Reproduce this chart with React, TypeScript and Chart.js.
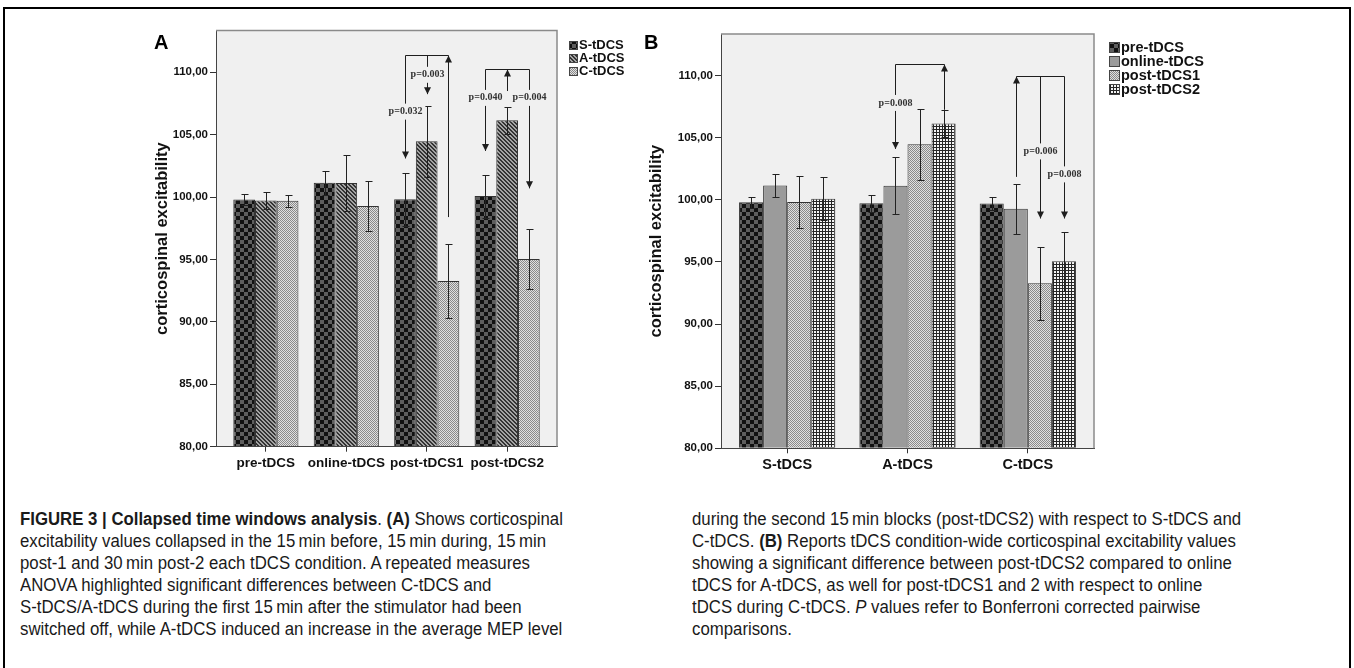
import React, { useEffect, useRef } from 'react';
import { Chart, registerables } from 'chart.js';

Chart.register(...registerables);

// ---------------- data ----------------
const timeWindows = ['pre-tDCS', 'online-tDCS', 'post-tDCS1', 'post-tDCS2'];
const conditions = ['S-tDCS', 'A-tDCS', 'C-tDCS'];

// mean corticospinal excitability per condition, over the time windows
const sMeans = [99.8, 101.15, 99.82, 100.08];
const aMeans = [99.72, 101.13, 104.47, 106.15];
const cMeans = [99.7, 99.28, 93.28, 95.05];
// error bar half-lengths
const sErrors = [0.42, 0.95, 2.1, 1.72];
const aErrors = [0.66, 2.28, 2.84, 1.06];
const cErrors = [0.5, 2.0, 2.93, 2.4];

const yTickValues = [80, 85, 90, 95, 100, 105, 110];
const yMin = 80;
const yMax = 113.35;

type Leg = { series: number; end: number; dir: 'up' | 'down'; label?: string; labelAt?: number };
type Bracket = { group: number; top: number; legs: Leg[] };

// significance brackets, panel A (group = time window, series = condition)
const bracketsA: Bracket[] = [
  {
    group: 2, top: 111.4, legs: [
      { series: 0, end: 103.1, dir: 'down', label: 'p=0.032', labelAt: 106.85 },
      { series: 1, end: 108.25, dir: 'down', label: 'p=0.003', labelAt: 109.8 },
      { series: 2, end: 98.4, dir: 'up' },
    ],
  },
  {
    group: 3, top: 110.25, legs: [
      { series: 0, end: 103.7, dir: 'down', label: 'p=0.040', labelAt: 107.95 },
      { series: 1, end: 108.5, dir: 'up' },
      { series: 2, end: 100.7, dir: 'down', label: 'p=0.004', labelAt: 107.95 },
    ],
  },
];
// panel B (group = condition, series = time window)
const bracketsB: Bracket[] = [
  {
    group: 1, top: 110.9, legs: [
      { series: 1, end: 104.1, dir: 'down', label: 'p=0.008', labelAt: 107.8 },
      { series: 3, end: 107.25, dir: 'up' },
    ],
  },
  {
    group: 2, top: 110.0, legs: [
      { series: 1, end: 101.85, dir: 'up' },
      { series: 2, end: 98.5, dir: 'down', label: 'p=0.006', labelAt: 103.9 },
      { series: 3, end: 98.5, dir: 'down', label: 'p=0.008', labelAt: 102.05 },
    ],
  },
];

const meansByCondition = [sMeans, aMeans, cMeans];
const errorsByCondition = [sErrors, aErrors, cErrors];

// ---------------- styling helpers ----------------
const PLOT_BG = '#f0f0f0';
const FONT = '"Liberation Sans", Arial, Helvetica, sans-serif';

function makeTile(kind: string): HTMLCanvasElement {
  const c = document.createElement('canvas');
  const g = c.getContext('2d')!;
  if (kind === 'checker') {
    c.width = 8; c.height = 8;
    g.fillStyle = '#111111'; g.fillRect(0, 0, 8, 8);
    g.fillStyle = '#5e5e5e'; g.fillRect(0, 0, 4, 4); g.fillRect(4, 4, 4, 4);
  } else if (kind === 'diag') {
    const n = 4;
    c.width = n; c.height = n;
    g.fillStyle = '#a4a4a4'; g.fillRect(0, 0, n, n);
    g.fillStyle = '#333333';
    for (let y = 0; y < n; y++) for (let x = 0; x < n; x++) {
      const d = (((x - y) % n) + n) % n;
      if (d === 0 || d === 1) g.fillRect(x, y, 1, 1);
    }
  } else if (kind === 'dots') {
    c.width = 2; c.height = 2;
    g.fillStyle = '#e0e0e0'; g.fillRect(0, 0, 2, 2);
    g.fillStyle = '#8a8a8a'; g.fillRect(0, 0, 1, 1); g.fillRect(1, 1, 1, 1);
  } else if (kind === 'grid') {
    c.width = 3; c.height = 3;
    g.fillStyle = '#f4f4f4'; g.fillRect(0, 0, 3, 3);
    g.fillStyle = '#262626'; g.fillRect(0, 0, 3, 1); g.fillRect(0, 0, 1, 3);
  } else {
    c.width = 1; c.height = 1;
    g.fillStyle = '#9b9b9b'; g.fillRect(0, 0, 1, 1);
  }
  return c;
}

function makeFill(ctx: CanvasRenderingContext2D, kind: string): CanvasPattern | string {
  if (kind === 'solid') return '#9b9b9b';
  return ctx.createPattern(makeTile(kind), 'repeat') || '#999';
}

interface PanelSpec {
  categories: string[];
  series: string[];
  values: number[][];
  errors: number[][];
  patterns: string[];
  xMin: number;
  xMax: number;
  categoryPercentage: number;
  area: { left: number; top: number; right: number; bottom: number };
  canvasW: number;
  canvasH: number;
  titleX: number;
  yTickFont: number;
  xTickFont: number;
  legend: { dx: number; dy: number; step: number; box: number; font: number };
  brackets: Bracket[];
}

const panelA: PanelSpec = {
  categories: timeWindows,
  series: conditions,
  values: conditions.map((_, k) => meansByCondition[k]),
  errors: conditions.map((_, k) => errorsByCondition[k]),
  patterns: ['checker', 'diag', 'dots'],
  xMin: -0.62,
  xMax: 3.62,
  categoryPercentage: 0.81,
  area: { left: 216, top: 30.5, right: 557, bottom: 446.7 },
  canvasW: 630,
  canvasH: 480,
  titleX: 162,
  yTickFont: 11.5,
  xTickFont: 13.5,
  legend: { dx: 12, dy: 14.5, step: 13, box: 9, font: 13 },
  brackets: bracketsA,
};

const panelB: PanelSpec = {
  categories: conditions,
  series: timeWindows,
  values: timeWindows.map((_, t) => conditions.map((__, k) => meansByCondition[k][t])),
  errors: timeWindows.map((_, t) => conditions.map((__, k) => errorsByCondition[k][t])),
  patterns: ['checker', 'solid', 'dots', 'grid'],
  xMin: -0.55,
  xMax: 2.55,
  categoryPercentage: 0.8,
  area: { left: 91, top: 34, right: 464, bottom: 448.3 },
  canvasW: 724,
  canvasH: 480,
  titleX: 26.5,
  yTickFont: 11.5,
  xTickFont: 14.5,
  legend: { dx: 15, dy: 13, step: 14, box: 11, font: 14.5 },
  brackets: bracketsB,
};

// ---------------- plugins ----------------
const framePlugin = {
  id: 'frame',
  beforeDraw(chart: any) {
    const { ctx, chartArea: a } = chart;
    ctx.save();
    ctx.fillStyle = PLOT_BG;
    ctx.fillRect(a.left, a.top, a.right - a.left, a.bottom - a.top);
    ctx.restore();
  },
  afterDraw(chart: any) {
    const { ctx, chartArea: a } = chart;
    ctx.save();
    ctx.strokeStyle = '#8a8a8a';
    ctx.lineWidth = 1.5;
    ctx.beginPath();
    ctx.moveTo(a.left, a.top);
    ctx.lineTo(a.right, a.top);
    ctx.lineTo(a.right, a.bottom);
    ctx.stroke();
    ctx.restore();
  },
};

const errorBarPlugin = {
  id: 'errorBars',
  afterDatasetsDraw(chart: any) {
    const { ctx } = chart;
    const y = chart.scales.y;
    ctx.save();
    ctx.strokeStyle = '#222';
    ctx.lineWidth = 1;
    chart.data.datasets.forEach((ds: any, i: number) => {
      const meta = chart.getDatasetMeta(i);
      meta.data.forEach((bar: any, j: number) => {
        const v = ds.data[j].y;
        const e = ds.errors[j];
        const x = Math.round(bar.x) + 0.5;
        const yt = Math.round(y.getPixelForValue(v + e)) + 0.5;
        const yb = Math.round(y.getPixelForValue(v - e)) + 0.5;
        ctx.beginPath();
        ctx.moveTo(x, yt); ctx.lineTo(x, yb);
        ctx.moveTo(x - 3, yt); ctx.lineTo(x + 4, yt);
        ctx.moveTo(x - 3, yb); ctx.lineTo(x + 4, yb);
        ctx.stroke();
      });
    });
    ctx.restore();
  },
};

function bracketPlugin(brackets: Bracket[]) {
  return {
    id: 'brackets',
    afterDatasetsDraw(chart: any) {
      const { ctx } = chart;
      const y = chart.scales.y;
      ctx.save();
      ctx.strokeStyle = '#1e1e1e';
      ctx.fillStyle = '#1e1e1e';
      ctx.lineWidth = 1;
      brackets.forEach((br) => {
        const topY = Math.round(y.getPixelForValue(br.top)) + 0.5;
        const xs = br.legs.map((l) => Math.round(chart.getDatasetMeta(l.series).data[br.group].x) + 0.5);
        ctx.beginPath();
        ctx.moveTo(Math.min(...xs), topY);
        ctx.lineTo(Math.max(...xs), topY);
        ctx.stroke();
        br.legs.forEach((l, k) => {
          const x = xs[k];
          const endY = y.getPixelForValue(l.end);
          ctx.beginPath();
          ctx.moveTo(x, topY);
          ctx.lineTo(x, endY);
          ctx.stroke();
          ctx.beginPath();
          if (l.dir === 'down') {
            ctx.moveTo(x, endY);
            ctx.lineTo(x - 3.5, endY - 7);
            ctx.lineTo(x + 3.5, endY - 7);
          } else {
            ctx.moveTo(x, topY);
            ctx.lineTo(x - 3.5, topY + 7);
            ctx.lineTo(x + 3.5, topY + 7);
          }
          ctx.closePath();
          ctx.fill();
          if (l.label && l.labelAt !== undefined) {
            const ly = y.getPixelForValue(l.labelAt);
            ctx.font = 'bold 10px "Liberation Serif", "Times New Roman", serif';
            const w = ctx.measureText(l.label).width;
            ctx.fillStyle = PLOT_BG;
            ctx.fillRect(x - w / 2 - 3, ly - 8, w + 6, 16);
            ctx.fillStyle = '#333';
            ctx.textAlign = 'center';
            ctx.textBaseline = 'middle';
            ctx.fillText(l.label, x, ly);
            ctx.fillStyle = '#1e1e1e';
          }
        });
      });
      ctx.restore();
    },
  };
}

function legendPlugin(lg: PanelSpec['legend']) {
  return {
    id: 'sideLegend',
    afterDraw(chart: any) {
      const { ctx, chartArea: a } = chart;
      ctx.save();
      chart.data.datasets.forEach((ds: any, i: number) => {
        const x = Math.round(a.right + lg.dx);
        const cy = a.top + lg.dy + i * lg.step;
        const top = Math.round(cy - lg.box / 2);
        ctx.fillStyle = ds.backgroundColor;
        ctx.fillRect(x, top, lg.box, lg.box);
        ctx.strokeStyle = '#444';
        ctx.lineWidth = 1;
        ctx.strokeRect(x + 0.5, top + 0.5, lg.box - 1, lg.box - 1);
        ctx.fillStyle = '#111';
        ctx.font = `bold ${lg.font}px ${FONT}`;
        ctx.textAlign = 'left';
        ctx.textBaseline = 'middle';
        ctx.fillText(ds.label, x + lg.box + 1, cy + 0.5);
      });
      ctx.restore();
    },
  };
}

function createPanel(canvas: HTMLCanvasElement, p: PanelSpec): Chart {
  const ctx = canvas.getContext('2d')!;
  const datasets = p.series.map((name, s) => ({
    label: name,
    data: p.categories.map((_, c) => ({ x: c, y: p.values[s][c] })),
    errors: p.errors[s],
    backgroundColor: makeFill(ctx, p.patterns[s]),
    borderColor: '#333',
    borderWidth: 1,
    borderSkipped: 'start',
    base: yMin,
    categoryPercentage: p.categoryPercentage,
    barPercentage: 1,
  }));
  const titleSize = 16.5;
  return new Chart(canvas, {
    type: 'bar',
    data: { datasets: datasets as any },
    options: {
      responsive: false,
      animation: false,
      devicePixelRatio: 1,
      events: [],
      layout: { padding: { left: 0, top: p.area.top, right: p.canvasW - p.area.right, bottom: 0 } },
      plugins: { legend: { display: false }, tooltip: { enabled: false }, title: { display: false } },
      scales: {
        x: {
          type: 'linear',
          min: p.xMin,
          max: p.xMax,
          offset: false,
          afterBuildTicks: (axis: any) => { axis.ticks = p.categories.map((_, i) => ({ value: i })); },
          afterFit: (axis: any) => { axis.height = p.canvasH - p.area.bottom; },
          ticks: {
            autoSkip: false, maxRotation: 0, minRotation: 0, padding: 3, color: '#111',
            font: { family: FONT, size: p.xTickFont, weight: 'bold' },
            callback: (_v: any, i: number) => p.categories[i],
          },
          grid: { offset: false, drawOnChartArea: false, drawTicks: true, tickLength: 5, color: '#333', lineWidth: 1 },
          border: { display: true, color: '#444', width: 1 },
        },
        y: {
          type: 'linear',
          min: yMin,
          max: yMax,
          afterBuildTicks: (axis: any) => { axis.ticks = yTickValues.map((v) => ({ value: v })); },
          afterFit: (axis: any) => { axis.width = p.area.left; },
          ticks: {
            padding: 2, color: '#111',
            font: { family: FONT, size: p.yTickFont, weight: 'bold' },
            callback: (v: any) => Number(v).toFixed(2).replace('.', ','),
          },
          grid: { drawOnChartArea: false, drawTicks: true, tickLength: 6, color: '#333', lineWidth: 1 },
          border: { display: true, color: '#444', width: 1 },
          title: {
            display: true, text: 'corticospinal excitability', color: '#111',
            font: { family: FONT, size: titleSize, weight: 'bold' },
            padding: { top: p.titleX - titleSize * 0.6, bottom: 0 },
          },
        },
      },
    } as any,
    plugins: [framePlugin, errorBarPlugin, bracketPlugin(p.brackets), legendPlugin(p.legend)] as any,
  });
}

// ---------------- caption ----------------
type Seg = { t: string; b?: boolean; i?: boolean };
const captionLeft: Seg[][] = [
  [{ t: 'FIGURE 3 | Collapsed time windows analysis', b: true }, { t: '. ' }, { t: '(A)', b: true }, { t: ' Shows corticospinal' }],
  [{ t: 'excitability values collapsed in the 15\u2009min before, 15\u2009min during, 15\u2009min' }],
  [{ t: 'post-1 and 30\u2009min post-2 each tDCS condition. A repeated measures' }],
  [{ t: 'ANOVA highlighted significant differences between C-tDCS and' }],
  [{ t: 'S-tDCS/A-tDCS during the first 15\u2009min after the stimulator had been' }],
  [{ t: 'switched off, while A-tDCS induced an increase in the average MEP level' }],
];
const captionRight: Seg[][] = [
  [{ t: 'during the second 15\u2009min blocks (post-tDCS2) with respect to S-tDCS and' }],
  [{ t: 'C-tDCS. ' }, { t: '(B)', b: true }, { t: ' Reports tDCS condition-wide corticospinal excitability values' }],
  [{ t: 'showing a significant difference between post-tDCS2 compared to online' }],
  [{ t: 'tDCS for A-tDCS, as well for post-tDCS1 and 2 with respect to online' }],
  [{ t: 'tDCS during C-tDCS. ' }, { t: 'P', i: true }, { t: ' values refer to Bonferroni corrected pairwise' }],
  [{ t: 'comparisons.' }],
];

const CAPTION_FONT = '"Liberation Sans Narrow", "Liberation Sans", Arial, sans-serif';

function CaptionColumn({ lines, left }: { lines: Seg[][]; left: number }) {
  return (
    <>
      {lines.map((segs, li) => (
        <div
          key={li}
          className="capline"
          data-ref={left < 100 && li === 1 ? '1' : undefined}
          style={{
            position: 'absolute', left, top: 508 + li * 22, whiteSpace: 'nowrap',
            fontFamily: CAPTION_FONT, fontSize: 17.5, lineHeight: '22px', color: '#1a1a1a',
            transformOrigin: 'left center',
          }}
        >
          {segs.map((s, si) => (
            <span key={si} style={{ fontWeight: s.b ? 700 : 400, fontStyle: s.i ? 'italic' : 'normal' }}>{s.t}</span>
          ))}
        </div>
      ))}
    </>
  );
}

export default function App() {
  const refA = useRef<HTMLCanvasElement>(null);
  const refB = useRef<HTMLCanvasElement>(null);
  const capRef = useRef<HTMLDivElement>(null);

  useEffect(() => {
    const a = createPanel(refA.current!, panelA);
    const b = createPanel(refB.current!, panelB);
    const root = capRef.current!;
    const refLine = root.querySelector('[data-ref="1"]') as HTMLElement | null;
    if (refLine) {
      const w = refLine.getBoundingClientRect().width;
      const k = w > 0 ? 526 / w : 1;
      root.querySelectorAll('.capline').forEach((el) => {
        (el as HTMLElement).style.transform = `scaleX(${k})`;
      });
    }
    return () => { a.destroy(); b.destroy(); };
  }, []);

  return (
    <div ref={capRef} style={{ position: 'absolute', left: 0, top: 0, width: 1354, height: 668, overflow: 'hidden', background: '#fff' }}>
      <div style={{ position: 'absolute', left: 3, top: 7, width: 1348, height: 700, border: '2px solid #000', borderBottom: 'none', boxSizing: 'border-box' }} />
      <canvas ref={refA} width={panelA.canvasW} height={panelA.canvasH} style={{ position: 'absolute', left: 0, top: 0 }} />
      <canvas ref={refB} width={panelB.canvasW} height={panelB.canvasH} style={{ position: 'absolute', left: 630, top: 0 }} />
      <div style={{ position: 'absolute', left: 154, top: 32, fontFamily: FONT, fontWeight: 700, fontSize: 20, lineHeight: 1, color: '#000' }}>A</div>
      <div style={{ position: 'absolute', left: 644, top: 32, fontFamily: FONT, fontWeight: 700, fontSize: 20, lineHeight: 1, color: '#000' }}>B</div>
      <CaptionColumn lines={captionLeft} left={20} />
      <CaptionColumn lines={captionRight} left={692} />
    </div>
  );
}
